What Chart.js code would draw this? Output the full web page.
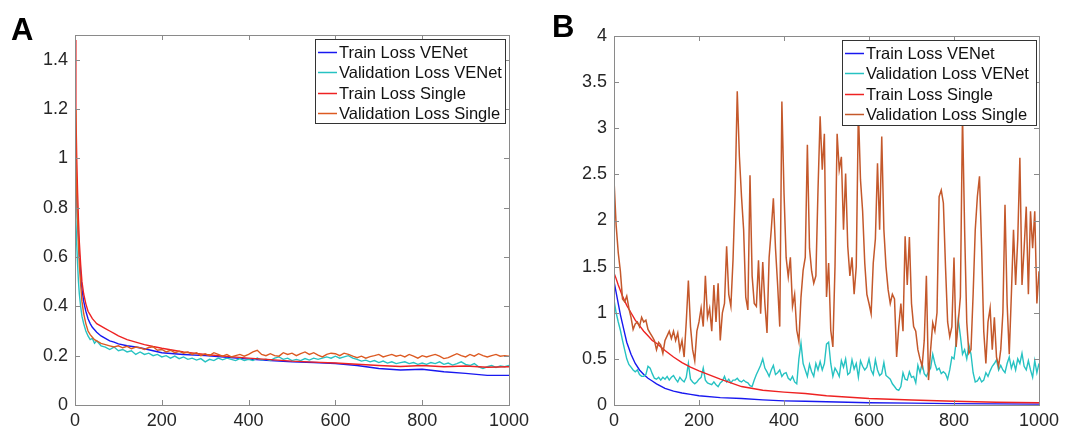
<!DOCTYPE html>
<html lang="en">
<head>
  <meta charset="UTF-8" />
  <title>Train / Validation Loss</title>
  <script src="https://cdn.jsdelivr.net/npm/chart.js"></script>
  <style>
    body { margin: 0; background: #fff; }
    #wrap { position: relative; width: 1067px; height: 432px; overflow: hidden; }
    canvas { position: absolute; top: 0; }
    #chartA { left: 0; }
    #chartB { left: 540px; }
    .panel-tag { position: absolute; font: bold 31px "Liberation Sans", Arial, sans-serif; color: #000; line-height: 1; }
  </style>
</head>
<body>
  <div id="wrap">
    <canvas id="chartA" width="540" height="432"></canvas>
    <canvas id="chartB" width="527" height="432"></canvas>
    <div class="panel-tag" style="left:11px; top:14px;">A</div>
    <div class="panel-tag" style="left:552px; top:11px;">B</div>
  </div>

  <script>
    // ---- panel A ----
    const epochsATrain = [0, 2, 4, 6, 8, 10, 13, 16, 20, 25, 30, 35, 40, 45, 50, 60, 70, 80, 90, 100,
      120, 140, 160, 180, 200, 250, 300, 350, 400, 450, 500, 550, 600, 650, 700, 750, 800, 850, 900, 950, 1000];
    const epochsAVal = [0, 2, 4, 6, 8, 10, 13, 16, 20, 25, 30, 35, 40, 45, 50]
      .concat(Array.from({ length: 95 }, (_, i) => 60 + i * 10));

    const trainVENetA = [1.1, 0.95, 0.85, 0.76, 0.68, 0.61, 0.53, 0.47, 0.42, 0.38, 0.35, 0.33, 0.315, 0.305, 0.295,
      0.28, 0.27, 0.26, 0.255, 0.248, 0.24, 0.235, 0.228, 0.22, 0.212, 0.205, 0.2, 0.193, 0.186, 0.18,
      0.175, 0.172, 0.168, 0.16, 0.148, 0.142, 0.145, 0.135, 0.128, 0.12, 0.12];
    const trainSingleA = [1.48, 1.2, 1.0, 0.86, 0.75, 0.66, 0.57, 0.5, 0.45, 0.41, 0.38, 0.365, 0.35, 0.34, 0.33,
      0.32, 0.31, 0.3, 0.29, 0.28, 0.265, 0.255, 0.245, 0.237, 0.23, 0.215, 0.205, 0.197, 0.19, 0.184,
      0.178, 0.174, 0.17, 0.165, 0.16, 0.156, 0.16, 0.155, 0.158, 0.153, 0.155];
    const valVENetA = [
      0.85, 0.75, 0.65, 0.57, 0.5, 0.45, 0.4, 0.36, 0.33, 0.3, 0.28, 0.265, 0.27, 0.25, 0.26,
      0.24, 0.235, 0.225, 0.235, 0.22,
      0.225, 0.215, 0.22, 0.205, 0.215, 0.205, 0.21, 0.2, 0.205, 0.195,
      0.2, 0.19, 0.198, 0.188, 0.195, 0.185, 0.19, 0.182, 0.188, 0.175,
      0.185, 0.18, 0.19, 0.183, 0.19, 0.185, 0.18, 0.188, 0.18, 0.185,
      0.18, 0.19, 0.182, 0.186, 0.18, 0.19, 0.195, 0.185, 0.19, 0.18,
      0.185, 0.18, 0.188, 0.182, 0.19, 0.185, 0.19, 0.195, 0.19, 0.198,
      0.19, 0.195, 0.2, 0.19, 0.185, 0.178, 0.182, 0.175, 0.18, 0.172,
      0.178, 0.17, 0.175, 0.168, 0.172, 0.175, 0.168, 0.172, 0.165, 0.17,
      0.165, 0.172, 0.168, 0.175, 0.165, 0.17, 0.162, 0.168, 0.175, 0.165,
      0.16, 0.168, 0.155, 0.148, 0.155, 0.16, 0.152, 0.158, 0.155, 0.16];
    const valSingleA = [
      1.2, 1.0, 0.85, 0.74, 0.65, 0.57, 0.49, 0.42, 0.37, 0.33, 0.3, 0.285, 0.275, 0.265, 0.26,
      0.25, 0.245, 0.24, 0.235, 0.24,
      0.232, 0.238, 0.228, 0.235, 0.232, 0.225, 0.233, 0.236, 0.222, 0.225,
      0.215, 0.222, 0.212, 0.218, 0.21, 0.215, 0.205, 0.212, 0.2, 0.208,
      0.2, 0.212, 0.205, 0.198, 0.205, 0.195, 0.2, 0.205, 0.198, 0.205,
      0.215, 0.222, 0.205, 0.2, 0.208, 0.2, 0.198, 0.212, 0.205, 0.21,
      0.2, 0.208, 0.215, 0.205, 0.212, 0.202, 0.195, 0.205, 0.21, 0.208,
      0.2, 0.21, 0.205, 0.198, 0.192, 0.198, 0.19, 0.196, 0.2, 0.205,
      0.195, 0.2, 0.205, 0.198, 0.202, 0.195, 0.205, 0.198, 0.19, 0.2,
      0.195, 0.2, 0.205, 0.198, 0.188, 0.192, 0.2, 0.208, 0.2, 0.195,
      0.205, 0.198, 0.208, 0.2, 0.195, 0.2, 0.205, 0.198, 0.2, 0.198];

    // ---- panel B ----
    const epochsBTrain = [0, 5, 10, 15, 20, 25, 30, 40, 50, 60, 70, 80, 90, 100, 120, 140, 160, 180, 200,
      250, 300, 350, 400, 450, 500, 600, 700, 800, 900, 1000];
    const epochsBVal = Array.from({ length: 201 }, (_, i) => i * 5);

    const trainVENetB = [1.34, 1.22, 1.1, 0.98, 0.88, 0.78, 0.68, 0.55, 0.45, 0.38, 0.33, 0.29, 0.26, 0.23, 0.18,
      0.15, 0.13, 0.115, 0.1, 0.08, 0.07, 0.055, 0.045, 0.04, 0.035, 0.025, 0.02, 0.015, 0.012, 0.01];
    const trainSingleB = [1.43, 1.37, 1.3, 1.24, 1.18, 1.13, 1.08, 1.0, 0.92, 0.86, 0.8, 0.75, 0.7, 0.67, 0.59,
      0.52, 0.46, 0.41, 0.37, 0.28, 0.2, 0.16, 0.14, 0.125, 0.1, 0.07, 0.055, 0.04, 0.03, 0.025];
    const valVENetB = [
      1.14, 1.0, 0.9, 0.81, 0.7, 0.6, 0.5, 0.44, 0.41, 0.38,
      0.36, 0.38, 0.33, 0.31, 0.31, 0.33, 0.42, 0.4, 0.34, 0.29,
      0.28, 0.3, 0.27, 0.3, 0.28, 0.31, 0.27, 0.3, 0.32, 0.28,
      0.25, 0.3, 0.27, 0.25, 0.3, 0.45, 0.28, 0.25, 0.23, 0.25,
      0.28, 0.3, 0.4, 0.27, 0.24, 0.23, 0.22, 0.25, 0.22, 0.2,
      0.24, 0.26, 0.31, 0.25, 0.28, 0.24, 0.27, 0.27, 0.29, 0.26,
      0.25, 0.27, 0.25, 0.24, 0.21, 0.2, 0.27, 0.33, 0.38, 0.43,
      0.5, 0.4, 0.36, 0.31, 0.38, 0.43, 0.33, 0.35, 0.38, 0.31,
      0.34, 0.35, 0.29, 0.27, 0.31, 0.25, 0.23, 0.5, 0.67, 0.45,
      0.38, 0.31, 0.44, 0.36, 0.31, 0.45, 0.38, 0.47, 0.38, 0.45,
      0.66, 0.68, 0.45, 0.31, 0.4, 0.36, 0.31, 0.48, 0.41, 0.5,
      0.33, 0.35, 0.49, 0.39, 0.45, 0.3, 0.48, 0.42, 0.38, 0.41,
      0.5, 0.38, 0.33, 0.49, 0.38, 0.32, 0.34, 0.46, 0.32, 0.3,
      0.28, 0.23, 0.2, 0.17, 0.16, 0.2, 0.35, 0.28, 0.27, 0.36,
      0.3, 0.31, 0.24, 0.43, 0.35, 0.45, 0.34, 0.31, 0.36, 0.4,
      0.55, 0.45, 0.38, 0.4, 0.34, 0.36, 0.34, 0.28, 0.38, 0.52,
      0.5, 0.68, 0.93, 0.75, 0.55, 0.6, 0.5, 0.65, 0.55, 0.35,
      0.25, 0.26, 0.3, 0.25, 0.27, 0.35, 0.31, 0.37, 0.42, 0.45,
      0.49, 0.38, 0.43, 0.38, 0.35, 0.45, 0.52, 0.4, 0.47, 0.38,
      0.5, 0.45, 0.56, 0.42, 0.38, 0.48, 0.38, 0.3, 0.48, 0.35,
      0.45];
    const valSingleB = [
      2.44, 1.95, 1.65, 1.45, 1.15, 1.12, 1.18, 1.05, 0.95, 0.82,
      0.88, 0.9, 0.85, 0.95, 0.9, 0.92, 0.82, 0.78, 0.74, 0.7,
      0.6, 0.68, 0.65, 0.56, 0.7, 0.75, 0.8, 0.72, 0.8, 0.7,
      0.78, 0.6, 0.7, 0.52, 0.9, 1.35, 0.85, 0.6, 0.48, 0.8,
      0.9, 1.05, 0.85, 1.4, 0.95, 1.05, 0.8, 1.3, 0.9, 1.32,
      0.7, 1.0, 1.1, 1.72, 1.2, 1.07, 1.57, 2.3, 3.4, 2.7,
      2.26, 1.9, 1.17, 1.03, 2.49, 1.4, 1.1, 1.07, 1.57, 0.99,
      1.55, 1.1, 0.78, 1.6, 1.9, 2.24, 1.7, 1.3, 0.85, 3.29,
      2.3, 1.6, 1.39, 1.6, 1.07, 1.2, 0.81, 0.69, 1.17, 1.46,
      1.6, 2.82, 1.7, 1.45, 1.32, 1.4, 2.33, 3.13, 2.55, 2.94,
      1.17, 1.54, 0.81, 0.63, 1.5, 2.94, 2.55, 2.69, 1.9, 2.51,
      1.72, 1.4, 1.6, 1.2, 1.5, 3.2, 2.44, 2.1, 1.54, 1.2,
      1.1, 0.99, 1.54, 1.8, 2.62, 1.9, 2.91, 1.9, 1.5, 1.25,
      1.1, 1.2, 1.15, 0.52, 0.85, 1.1, 0.8, 1.83, 1.3, 1.82,
      1.1, 0.85, 0.8, 0.6, 0.5, 0.42, 0.7, 1.4, 0.27, 0.6,
      0.89, 0.8, 1.0, 2.26, 2.33, 2.19, 1.5, 0.9, 0.74, 0.85,
      1.6, 0.63, 0.9, 1.17, 3.15, 1.9, 0.9, 0.56, 0.6, 1.2,
      1.9, 2.26, 2.48, 1.7, 0.8, 0.45, 0.9, 1.05, 0.6, 0.95,
      0.52, 0.42, 0.6, 1.0, 2.17, 1.1, 0.55, 1.2, 1.9, 1.3,
      1.8, 2.68, 1.3, 1.7, 2.15, 1.2, 2.1, 1.7, 2.1, 1.1,
      1.45];

    const xTicks = [0, 200, 400, 600, 800, 1000];
    const yTicksA = [0, 0.2, 0.4, 0.6, 0.8, 1, 1.2, 1.4];
    const yTicksB = [0, 0.5, 1, 1.5, 2, 2.5, 3, 3.5, 4];
    const seriesNames = ['Train Loss VENet', 'Validation Loss VENet', 'Train Loss Single', 'Validation Loss Single'];

    Chart.defaults.font.family = '"Liberation Sans", Arial, Helvetica, sans-serif';
    Chart.defaults.color = '#262626';

    const pts = (xs, ys) => xs.map((x, i) => ({ x: x, y: ys[i] }));

    // frame with inward ticks on all four sides + boxed legend in the top right
    const frameLegend = {
      id: 'frameLegend',
      afterDraw(chart, args, opts) {
        const { ctx, chartArea: a, scales } = chart;
        ctx.save();
        ctx.strokeStyle = '#8a8a8a';
        ctx.lineWidth = 1;
        ctx.strokeRect(Math.round(a.left) + 0.5, Math.round(a.top) + 0.5,
          Math.round(a.right - a.left), Math.round(a.bottom - a.top));
        ctx.beginPath();
        scales.x.ticks.forEach(t => {
          const px = Math.round(scales.x.getPixelForValue(t.value)) + 0.5;
          ctx.moveTo(px, a.bottom); ctx.lineTo(px, a.bottom - 5);
          ctx.moveTo(px, a.top); ctx.lineTo(px, a.top + 5);
        });
        scales.y.ticks.forEach(t => {
          const py = Math.round(scales.y.getPixelForValue(t.value)) + 0.5;
          ctx.moveTo(a.left, py); ctx.lineTo(a.left + 5, py);
          ctx.moveTo(a.right, py); ctx.lineTo(a.right - 5, py);
        });
        ctx.stroke();

        // legend
        const L = opts;
        ctx.fillStyle = '#fff';
        ctx.fillRect(L.left, L.top, L.width, L.height);
        ctx.strokeStyle = '#333';
        ctx.strokeRect(L.left + 0.5, L.top + 0.5, L.width, L.height);
        ctx.font = '16.5px "Liberation Sans", Arial, sans-serif';
        ctx.textBaseline = 'middle';
        chart.data.datasets.forEach((ds, i) => {
          const cy = Math.round(L.top + L.first + i * L.rowH) + 0.5;
          ctx.strokeStyle = ds.borderColor;
          ctx.lineWidth = 1.5;
          ctx.beginPath();
          ctx.moveTo(L.left + 3, cy); ctx.lineTo(L.left + 22, cy);
          ctx.stroke();
          ctx.fillStyle = '#111';
          ctx.fillText(ds.label, L.left + 24, cy + 1);
        });
        ctx.restore();
      }
    };

    function makeChart(id, datasets, yMax, yTicks, pad, yWidth, legend) {
      return new Chart(document.getElementById(id), {
        type: 'line',
        data: { datasets: datasets },
        options: {
          responsive: false,
          animation: false,
          layout: { padding: pad },
          elements: { point: { radius: 0 }, line: { borderWidth: 1.4, tension: 0 } },
          plugins: { legend: { display: false }, tooltip: { enabled: false }, frameLegend: legend },
          scales: {
            x: {
              type: 'linear', min: 0, max: 1000,
              grid: { display: false, drawTicks: false }, border: { display: false },
              afterBuildTicks: s => { s.ticks = xTicks.map(v => ({ value: v })); },
              afterFit: s => { s.height = 27; },
              ticks: { font: { size: 18 }, padding: 5, maxRotation: 0, callback: v => String(v) }
            },
            y: {
              type: 'linear', min: 0, max: yMax,
              grid: { display: false, drawTicks: false }, border: { display: false },
              afterBuildTicks: s => { s.ticks = yTicks.map(v => ({ value: v })); },
              afterFit: s => { s.width = yWidth; },
              ticks: { font: { size: 18 }, padding: 7, callback: v => String(v) }
            }
          }
        },
        plugins: [frameLegend]
      });
    }

    makeChart('chartA', [
      { label: seriesNames[0], data: pts(epochsATrain, trainVENetA), borderColor: '#1818f0', order: 4 },
      { label: seriesNames[1], data: pts(epochsAVal, valVENetA), borderColor: '#26c2c2', order: 3 },
      { label: seriesNames[2], data: pts(epochsATrain, trainSingleA), borderColor: '#ee2222', order: 2 },
      { label: seriesNames[3], data: pts(epochsAVal, valSingleA), borderColor: '#dc5a22', order: 1 }
    ], 1.5, yTicksA, { top: 35, right: 31, left: 0, bottom: 0 }, 75,
      { left: 315, top: 39, width: 190, height: 84, first: 13, rowH: 20.4 });

    makeChart('chartB', [
      { label: seriesNames[0], data: pts(epochsBTrain, trainVENetB), borderColor: '#1818f0', order: 4 },
      { label: seriesNames[1], data: pts(epochsBVal, valVENetB), borderColor: '#26c2c2', order: 3 },
      { label: seriesNames[2], data: pts(epochsBTrain, trainSingleB), borderColor: '#ee2222', order: 2 },
      { label: seriesNames[3], data: pts(epochsBVal, valSingleB), borderColor: '#c4582b', borderWidth: 1.5, order: 1 }
    ], 4, yTicksB, { top: 36, right: 28, left: 0, bottom: 0 }, 74,
      { left: 302, top: 40, width: 194, height: 85, first: 12.5, rowH: 20.5 });
  </script>
</body>
</html>
